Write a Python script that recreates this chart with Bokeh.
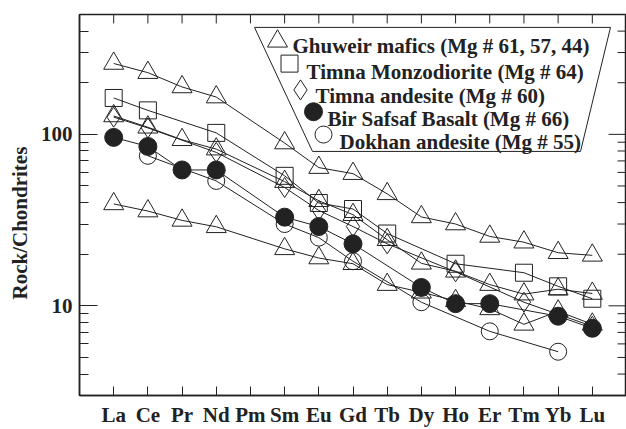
import math
from bokeh.plotting import figure
from bokeh.models import FixedTicker, Range1d, Title
from bokeh.core.properties import value
from bokeh.embed import file_html
from bokeh.resources import INLINE

# ---------------- data ----------------
elements = ["La", "Ce", "Pr", "Nd", "Pm", "Sm", "Eu", "Gd", "Tb", "Dy", "Ho", "Er", "Tm", "Yb", "Lu"]

ghuweir_1 = [259, 229, 189, 165, None, 89, 64, 59, 45, 33, 30, 25.4, 23.5, 20.4, 19.7]
ghuweir_2 = [128, 110, 93, 82, None, 53, 41, 34, 24.3, 17.7, 15.9, 13.3, 11.7, 12.5, 11.8]
ghuweir_3 = [39.3, 35.7, 31.5, 28.9, None, 21.5, 19.0, 17.6, 13.3, 12.0, 10.7, 9.6, 7.8, 9.3, 7.8]
timna_monzodiorite = [163, 138, None, 102, None, 57.3, 39.8, 36.7, 26.4, None, 17.6, None, 15.6, 13.0, 11.0]
timna_andesite = [126, 109, None, 78.5, None, 49, 36, 29, 23, None, 15.8, None, 10.5, None, 7.6]
bir_safsaf = [96, 85, 62, 62, None, 32.9, 29, 23, None, 12.8, 10.3, 10.3, None, 8.7, 7.4]
dokhan = [None, 75, None, 53.5, None, 30, 25, 18.2, None, 10.5, None, 7.1, None, 5.4, None]

legend_labels = [
    "Ghuweir mafics (Mg # 61, 57, 44)",
    "Timna Monzodiorite (Mg # 64)",
    "Timna andesite (Mg # 60)",
    "Bir Safsaf Basalt (Mg # 66)",
    "Dokhan andesite (Mg # 55)",
]

y_title = "Rock/Chondrites"
y_major = [10, 100]
y_major_labels = ["10", "100"]
y_minor = [3, 4, 5, 6, 7, 8, 9, 20, 30, 40, 50, 60, 70, 80, 90, 200, 300, 400, 500]

# ---------------- layout ----------------
W, H = 626, 429
FL, FR, FT, FB = 79, 626, 14, 398
X0, X1 = 0, 16
Y0, Y1 = 3, 500
INK = "#222222"
FONT = "Liberation Serif"


def dx(px):
    return X0 + (px - FL) / (FR - FL) * (X1 - X0)


def dy(py):
    l1, l0 = math.log10(Y1), math.log10(Y0)
    return 10 ** (l1 - (py - FT) / (FB - FT) * (l1 - l0))


p = figure(width=W, height=H, x_range=Range1d(X0, X1), y_range=Range1d(Y0, Y1),
           y_axis_type="log", output_backend="svg", toolbar_location=None,
           min_border_left=FL, min_border_right=W - FR, min_border_top=FT,
           min_border_bottom=H - FB)
p.background_fill_color = "white"
p.border_fill_color = "white"
p.xgrid.visible = False
p.ygrid.visible = False
p.outline_line_color = INK
p.outline_line_width = 1.5

# bottom axis
xa = p.xaxis[0]
xa.ticker = FixedTicker(ticks=list(range(1, 16)), minor_ticks=[])
xa.major_label_overrides = {i + 1: e for i, e in enumerate(elements)}
xa.major_tick_in = 9
xa.major_tick_out = 0
xa.minor_tick_in = 0
xa.minor_tick_out = 0
xa.major_label_standoff = 7
xa.major_label_text_font = FONT
xa.major_label_text_font_style = "bold"
xa.major_label_text_font_size = "21px"
xa.major_label_text_color = INK
xa.axis_line_color = INK
xa.axis_line_width = 1.5
xa.major_tick_line_color = INK

# left axis
ya = p.yaxis[0]
ya.ticker = FixedTicker(ticks=y_major, minor_ticks=y_minor)
ya.major_label_overrides = dict(zip(y_major, y_major_labels))
ya.major_tick_in = 18
ya.major_tick_out = 0
ya.minor_tick_in = 9
ya.minor_tick_out = 0
ya.major_label_standoff = 7
ya.major_label_text_font = FONT
ya.major_label_text_font_style = "bold"
ya.major_label_text_font_size = "21px"
ya.major_label_text_color = INK
ya.axis_line_color = INK
ya.axis_line_width = 1.5
ya.major_tick_line_color = INK
ya.minor_tick_line_color = INK

# y-axis title (vertical title in the left panel, placed like the reference)
p.add_layout(Title(text=y_title, align="left", offset=96, standoff=11,
                   text_font=FONT, text_font_style="bold", text_font_size="21px",
                   text_color=INK), "left")

# top and right tick marks (mirroring the axis tickers)
top_x = list(range(1, 16))
p.segment(x0=top_x, y0=[Y1] * len(top_x), x1=top_x, y1=[dy(FT + 9)] * len(top_x),
          line_color=INK, line_width=1)
p.segment(x0=[X1] * len(y_major), y0=y_major, x1=[dx(FR - 18)] * len(y_major), y1=y_major,
          line_color=INK, line_width=1)
p.segment(x0=[X1] * len(y_minor), y0=y_minor, x1=[dx(FR - 9)] * len(y_minor), y1=y_minor,
          line_color=INK, line_width=1)


def series(vals):
    xs = [i + 1 for i, v in enumerate(vals) if v is not None]
    ys = [v for v in vals if v is not None]
    return xs, ys


styles = [
    (ghuweir_1, "triangle", 20, None),
    (ghuweir_2, "triangle", 20, None),
    (ghuweir_3, "triangle", 20, None),
    (timna_monzodiorite, "square", 17, None),
    (timna_andesite, "diamond", 20, None),
    (bir_safsaf, "circle", 18, INK),
    (dokhan, "circle", 17, None),
]

for vals, mk, sz, fill in styles:
    xs, ys = series(vals)
    p.line(xs, ys, line_color=INK, line_width=1)
for vals, mk, sz, fill in styles:
    xs, ys = series(vals)
    p.scatter(xs, ys, marker=mk, size=sz, fill_color=fill, line_color=INK, line_width=1)

# ---------------- legend (trapezoid) ----------------
poly_px = [(254, 27), (610, 27), (580, 152), (312, 152)]
p.patch([dx(a) for a, b in poly_px], [dy(b) for a, b in poly_px],
        fill_color="white", line_color=INK, line_width=1)

leg_markers = [("triangle", 20, None), ("square", 17, None), ("diamond", 20, None),
               ("circle", 18, INK), ("circle", 17, None)]
leg_marker_px = [(277, 41), (289, 63.5), (300, 90), (313, 112), (323, 135)]
leg_text_px = [(292, 46), (306, 71.5), (315, 96.5), (327, 119), (339, 142)]

for (mk, sz, fill), (mx, my) in zip(leg_markers, leg_marker_px):
    p.scatter([dx(mx)], [dy(my)], marker=mk, size=sz, fill_color=fill,
              line_color=INK, line_width=1)

p.text(x=[dx(a) for a, b in leg_text_px], y=[dy(b) for a, b in leg_text_px],
       text=legend_labels, text_font=value(FONT), text_font_style="bold",
       text_font_size="21px", text_color=INK, text_align="left",
       text_baseline="alphabetic")

open("out.html", "w").write(file_html(p, INLINE))
